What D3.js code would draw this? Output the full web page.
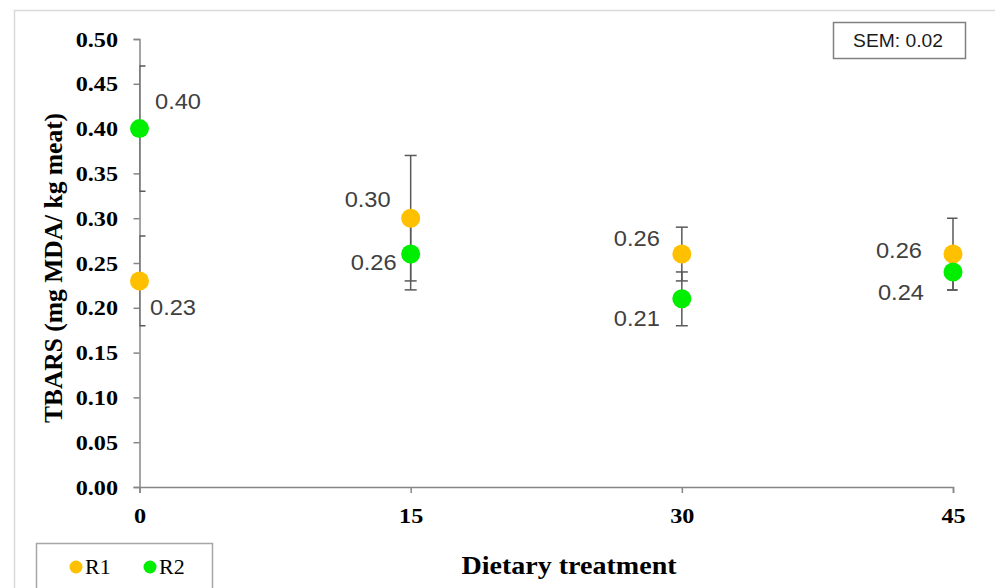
<!DOCTYPE html>
<html>
<head>
<meta charset="utf-8">
<script src="https://cdn.jsdelivr.net/npm/d3@7.9.0/dist/d3.min.js"></script>
<style>
  body { margin: 0; background: #fff; }
  svg { display: block; }
</style>
</head>
<body>
<div id="chart"></div>
<script>
const days = [0, 15, 30, 45];
const yTicks = [0, 0.05, 0.1, 0.15, 0.2, 0.25, 0.3, 0.35, 0.4, 0.45, 0.5];
const r1Values = [0.23, 0.30, 0.26, 0.26];
const r1Errors = [0.05, 0.07, 0.03, 0.04];
const r2Values = [0.40, 0.26, 0.21, 0.24];
const r2Errors = [0.07, 0.04, 0.03, 0.02];
const semText = 'SEM: 0.02';

// value label placement relative to its dot: [dx, dy, anchor]
const r1LabelOffsets = [[10.5, 27, 'start'], [-20, -19, 'end'], [-22, -16, 'end'], [-31, -4, 'end']];
const r2LabelOffsets = [[15.5, -27, 'start'], [-14, 8, 'end'], [-22, 20, 'end'], [-29, 21, 'end']];

const width = 995;
const height = 588;
const serif = '"Liberation Serif", "Times New Roman", serif';
const sans = '"Liberation Sans", Arial, sans-serif';
const axisColor = '#868686';
const stretch = 'scale(1.1,1)'; // the original picture is a little wide

const svg = d3.select('#chart')
  .append('svg')
  .attr('width', width)
  .attr('height', height);

// outer frame
svg.append('rect')
  .attr('x', 14.5).attr('y', 10.5)
  .attr('width', 1000).attr('height', 600)
  .attr('fill', 'none')
  .attr('stroke', '#d9d9d9')
  .attr('stroke-width', 1.5);

const x = d3.scaleLinear().domain([0, 45]).range([139.5, 953]);
const y = d3.scaleLinear().domain([0, 0.5]).range([487, 39]);

svg.append('defs').append('clipPath').attr('id', 'plot')
  .append('rect')
  .attr('x', x(0)).attr('y', 0)
  .attr('width', 818).attr('height', y(0));

// y axis
const yAxis = svg.append('g')
  .attr('transform', `translate(${x(0)},0)`)
  .call(d3.axisLeft(y).tickValues(yTicks).tickSize(6).tickPadding(13.5)
    .tickFormat(d3.format('.2f')));

// x axis
const xAxis = svg.append('g')
  .attr('transform', `translate(0,${y(0)})`)
  .call(d3.axisBottom(x).tickValues(days).tickSize(6).tickPadding(12)
    .tickFormat(d3.format('d')));

[yAxis, xAxis].forEach((g) => {
  g.select('.domain').attr('stroke', axisColor).attr('stroke-width', 1.5);
  g.selectAll('.tick line').attr('stroke', axisColor).attr('stroke-width', 1.5);
  g.selectAll('.tick text')
    .attr('fill', '#000')
    .attr('transform', stretch)
    .style('font-family', serif)
    .style('font-weight', 'bold')
    .style('font-size', '22px');
});
xAxis.selectAll('.tick text').attr('dy', '0.8em');

const series = [
  { name: 'R1', values: r1Values, errors: r1Errors, offsets: r1LabelOffsets, color: '#ffc000' },
  { name: 'R2', values: r2Values, errors: r2Errors, offsets: r2LabelOffsets, color: '#00ee00' },
];

// error bars, clipped to the plot area like the original
const bars = svg.append('g').attr('clip-path', 'url(#plot)');
series.forEach((s) => {
  days.forEach((day, i) => {
    const cx = x(day);
    const lo = y(s.values[i] - s.errors[i]);
    const hi = y(s.values[i] + s.errors[i]);
    const g = bars.append('g').attr('stroke', '#595959').attr('stroke-width', 1.5);
    g.append('line').attr('x1', cx).attr('x2', cx).attr('y1', lo).attr('y2', hi);
    g.append('line').attr('x1', cx - 6).attr('x2', cx + 6).attr('y1', lo).attr('y2', lo);
    g.append('line').attr('x1', cx - 6).attr('x2', cx + 6).attr('y1', hi).attr('y2', hi);
  });
});

// dots and labels
series.forEach((s) => {
  const g = svg.append('g');
  g.selectAll('circle')
    .data(days)
    .join('circle')
    .attr('cx', (d) => x(d))
    .attr('cy', (d, i) => y(s.values[i]))
    .attr('r', 9.5)
    .attr('fill', s.color);

  g.selectAll('text')
    .data(days)
    .join('text')
    .attr('transform', (d, i) =>
      `translate(${x(d) + s.offsets[i][0]},${y(s.values[i]) + s.offsets[i][1]}) ${stretch}`)
    .attr('text-anchor', (d, i) => s.offsets[i][2])
    .attr('dy', '0.35em')
    .attr('fill', '#404040')
    .style('font-family', sans)
    .style('font-size', '21.5px')
    .text((d, i) => s.values[i].toFixed(2));
});

// SEM box
svg.append('rect')
  .attr('x', 833.5).attr('y', 22.5)
  .attr('width', 132).attr('height', 36)
  .attr('fill', '#fff')
  .attr('stroke', '#808080')
  .attr('stroke-width', 1.5);
svg.append('text')
  .attr('transform', `translate(898,41) ${stretch}`)
  .attr('dy', '0.35em')
  .attr('text-anchor', 'middle')
  .style('font-family', sans)
  .style('font-size', '17.5px')
  .attr('fill', '#1a1a1a')
  .text(semText);

// axis titles
svg.append('text')
  .attr('transform', 'translate(53,268) rotate(-90)')
  .attr('text-anchor', 'middle')
  .attr('dy', '0.35em')
  .style('font-family', serif)
  .style('font-weight', 'bold')
  .style('font-size', '25.5px')
  .text('TBARS (mg MDA/ kg meat)');

svg.append('text')
  .attr('transform', `translate(569,565) ${stretch}`)
  .attr('text-anchor', 'middle')
  .attr('dy', '0.35em')
  .style('font-family', serif)
  .style('font-weight', 'bold')
  .style('font-size', '25.5px')
  .text('Dietary treatment');

// legend
const legend = svg.append('g');
legend.append('rect')
  .attr('x', 36.5).attr('y', 543.5)
  .attr('width', 176).attr('height', 60)
  .attr('fill', '#fff')
  .attr('stroke', '#a6a6a6')
  .attr('stroke-width', 1.5);
series.forEach((s, i) => {
  const lx = 76 + i * 74;
  legend.append('circle').attr('cx', lx).attr('cy', 567).attr('r', 6.5).attr('fill', s.color);
  legend.append('text')
    .attr('transform', `translate(${lx + 9},567) ${stretch}`)
    .attr('dy', '0.35em')
    .style('font-family', serif)
    .style('font-size', '20px')
    .text(s.name);
});
</script>
</body>
</html>
